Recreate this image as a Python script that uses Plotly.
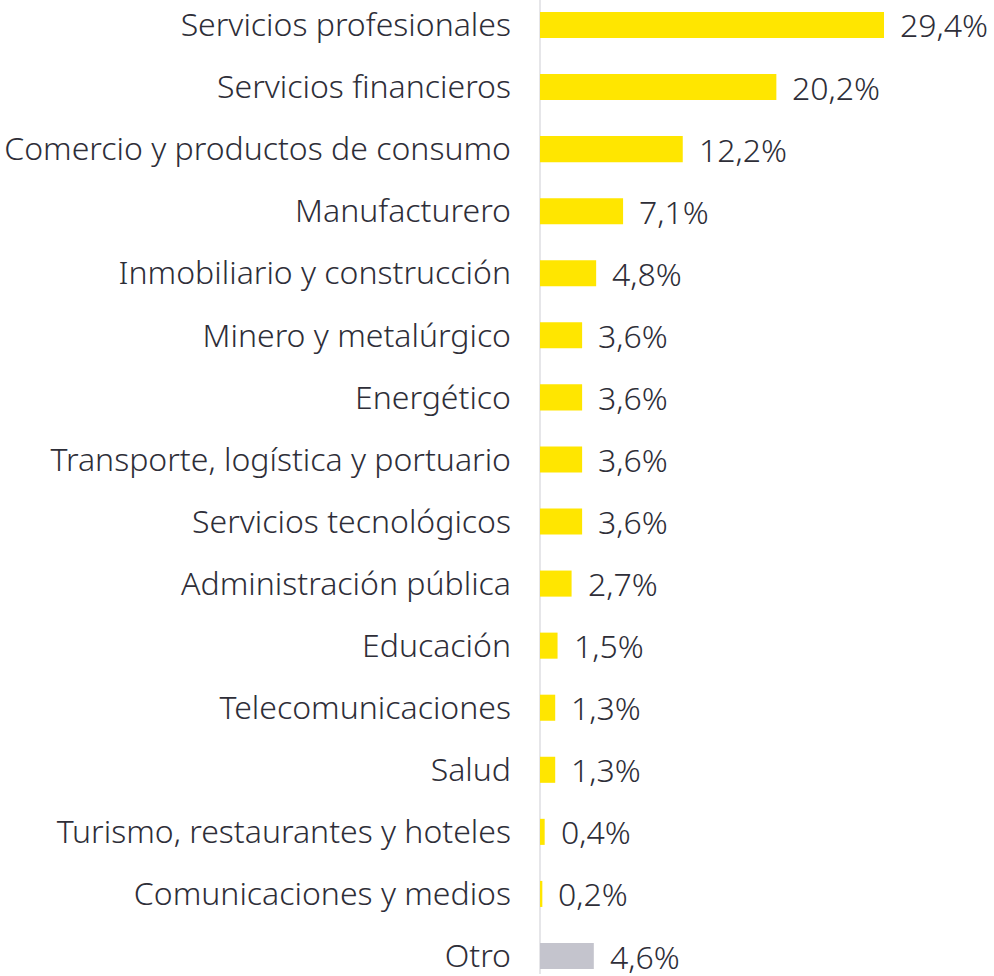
import plotly.graph_objects as go

sectores = [
    "Servicios profesionales",
    "Servicios financieros",
    "Comercio y productos de consumo",
    "Manufacturero",
    "Inmobiliario y construcción",
    "Minero y metalúrgico",
    "Energético",
    "Transporte, logística y portuario",
    "Servicios tecnológicos",
    "Administración pública",
    "Educación",
    "Telecomunicaciones",
    "Salud",
    "Turismo, restaurantes y hoteles",
    "Comunicaciones y medios",
    "Otro",
]
porcentajes = [29.4, 20.2, 12.2, 7.1, 4.8, 3.6, 3.6, 3.6, 3.6, 2.7, 1.5, 1.3, 1.3, 0.4, 0.2, 4.6]

amarillo = "#FFE600"
gris = "#C4C4CD"
texto = "#2E2E38"
fuente = "Noto Sans"

colores = [gris if s == "Otro" else amarillo for s in sectores]

fig = go.Figure()
fig.add_trace(go.Bar(
    x=porcentajes,
    y=sectores,
    orientation="h",
    marker=dict(color=colores, line=dict(width=0)),
    width=0.42,
    hoverinfo="skip",
))

# etiquetas de valor con coma decimal
for s, v in zip(sectores, porcentajes):
    fig.add_annotation(
        x=v, y=s,
        text=f"{v:.1f}%".replace(".", ","),
        showarrow=False,
        xanchor="left",
        xshift=14,
        font=dict(family=fuente, size=32, color=texto, weight=300),
    )

fig.update_layout(
    width=994,
    height=976,
    margin=dict(l=540, r=0, t=0, b=0),
    paper_bgcolor="white",
    plot_bgcolor="white",
    showlegend=False,
    xaxis=dict(
        range=[0, 38.8],
        showgrid=False,
        showticklabels=False,
        zeroline=True,
        zerolinecolor="#E6E6E9",
        zerolinewidth=2,
        fixedrange=True,
    ),
    yaxis=dict(
        range=[15.29, -0.402],
        showgrid=False,
        ticks="",
        ticklabelstandoff=28,
        tickfont=dict(family=fuente, size=32, color=texto, weight=300),
        fixedrange=True,
    ),
)

fig.write_html("out.html", config={"displayModeBar": False},
               post_script="document.body.style.margin='0';")
